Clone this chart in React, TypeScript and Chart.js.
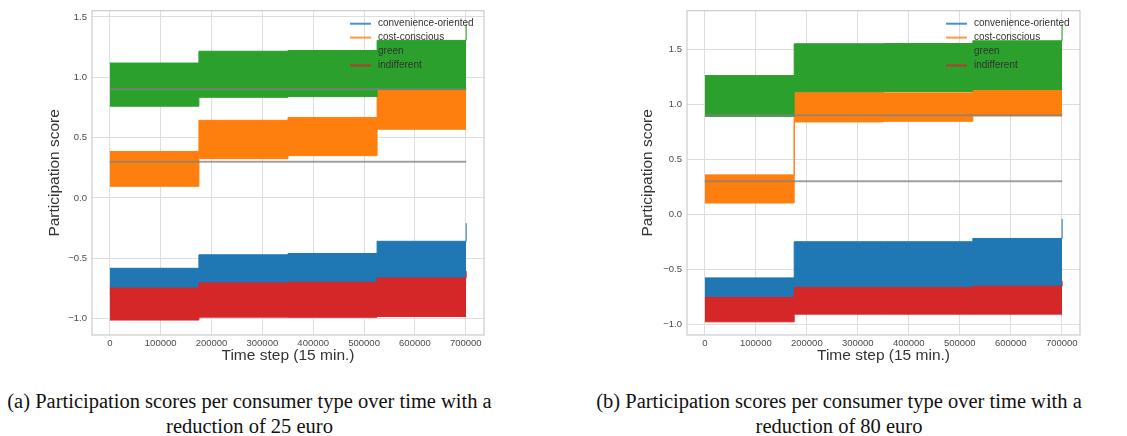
import React, { useEffect, useRef } from 'react';
import { Chart, registerables } from 'chart.js';

Chart.register(...registerables);

// ---------- data ----------
const seriesNames = ['convenience-oriented', 'cost-conscious', 'green', 'indifferent'];
const seriesColors = ['#1f77b4', '#ff7f0e', '#2ca02c', '#d62728'];
const segmentStarts = [0, 175200, 350400, 525600];
const lastStep = 700800;
const xTicks = [0, 100000, 200000, 300000, 400000, 500000, 600000, 700000];
const yTicks = [-1.0, -0.5, 0.0, 0.5, 1.0, 1.5];
const referenceLevels = [0.9, 0.3];

// (a) reduction of 25 euro: band upper / lower value per 5-year segment, and final value
const aConvenienceUpper = [-0.584, -0.472, -0.461, -0.36];
const aConvenienceLower = [-0.8, -0.76, -0.75, -0.72];
const aCostUpper = [0.385, 0.643, 0.667, 0.905];
const aCostLower = [0.096, 0.325, 0.35, 0.569];
const aGreenUpper = [1.118, 1.216, 1.222, 1.306];
const aGreenLower = [0.76, 0.834, 0.84, 0.9];
const aIndifferentUpper = [-0.748, -0.705, -0.7, -0.664];
const aIndifferentLower = [-1.013, -0.989, -0.99, -0.984];
const aFinalValues = [-0.21, 0.905, 1.44, -0.607];
const aYRange = [-1.137, 1.552];

// (b) reduction of 80 euro
const bConvenienceUpper = [-0.58, -0.251, -0.251, -0.221];
const bConvenienceLower = [-0.8, -0.7, -0.7, -0.7];
const bCostUpper = [0.358, 1.111, 1.105, 1.136];
const bCostLower = [0.102, 0.84, 0.846, 0.895];
const bGreenUpper = [1.262, 1.552, 1.554, 1.579];
const bGreenLower = [0.891, 1.115, 1.118, 1.136];
const bIndifferentUpper = [-0.758, -0.667, -0.667, -0.655];
const bIndifferentLower = [-0.98, -0.91, -0.91, -0.91];
const bFinalValues = [-0.043, 1.136, 1.729, -0.607];
const bYRange = [-1.1, 1.853];

// ---------- helpers ----------
const SANS = '"Liberation Sans", Arial, sans-serif';

function buildDatasets(uppers: number[][], lowers: number[][], finals: number[]) {
  const ds: any[] = [];
  seriesNames.forEach((name, i) => {
    const color = seriesColors[i];
    const low = segmentStarts.map((x, k) => ({ x, y: lowers[i][k] }));
    low.push({ x: lastStep, y: lowers[i][lowers[i].length - 1] });
    const up = segmentStarts.map((x, k) => ({ x, y: uppers[i][k] }));
    up.push({ x: lastStep, y: uppers[i][uppers[i].length - 1] });
    up.push({ x: lastStep, y: finals[i] });
    ds.push({
      label: name + ' (lower)', data: low, borderColor: color, backgroundColor: color,
      borderWidth: 1, pointRadius: 0, stepped: true, fill: false, order: 10 - i, inLegend: false,
    });
    ds.push({
      label: name, data: up, borderColor: color, backgroundColor: color,
      borderWidth: 1, pointRadius: 0, stepped: true, fill: '-1', order: 10 - i, inLegend: true,
    });
  });
  referenceLevels.forEach((level) => {
    ds.push({
      label: 'reference ' + level, data: [{ x: 0, y: level }, { x: lastStep, y: level }],
      borderColor: 'rgba(128,128,128,0.75)', borderWidth: 2, pointRadius: 0, fill: false,
      order: 1, inLegend: false,
    });
  });
  return ds;
}

const framePlugin = {
  id: 'frameAndLegend',
  afterDatasetsDraw(chart: any) {
    const { ctx, chartArea } = chart;
    ctx.save();
    ctx.strokeStyle = '#cccccc';
    ctx.lineWidth = 1.2;
    ctx.strokeRect(chartArea.left, chartArea.top, chartArea.right - chartArea.left, chartArea.bottom - chartArea.top);
    // legend (matplotlib style, upper right, no frame)
    const items = chart.data.datasets.filter((d: any) => d.inLegend);
    ctx.font = '10px ' + SANS;
    ctx.textBaseline = 'middle';
    ctx.textAlign = 'left';
    items.forEach((d: any, i: number) => {
      const y = chartArea.top + 13 + i * 13.9;
      ctx.strokeStyle = d.borderColor;
      ctx.globalAlpha = 0.8;
      ctx.lineWidth = 2;
      ctx.beginPath();
      ctx.moveTo(chartArea.right - 134, y);
      ctx.lineTo(chartArea.right - 113, y);
      ctx.stroke();
      ctx.globalAlpha = 1;
      ctx.fillStyle = '#333333';
      ctx.fillText(d.label, chartArea.right - 106, y);
    });
    ctx.restore();
  },
};

function makeConfig(datasets: any[], yRange: number[], yTitlePad: number, padRight: number) {
  return {
    type: 'line',
    data: { datasets },
    options: {
      responsive: false,
      animation: false,
      events: [],
      layout: { padding: { top: 8, right: padRight, left: 0, bottom: 0 } },
      plugins: { legend: { display: false }, tooltip: { enabled: false } },
      scales: {
        x: {
          type: 'linear',
          min: -0.05 * lastStep,
          max: 1.05 * lastStep,
          afterBuildTicks: (s: any) => { s.ticks = xTicks.map((v) => ({ value: v })); },
          afterFit: (s: any) => { s.height = 37; },
          ticks: {
            callback: (v: any) => String(v),
            font: { family: SANS, size: 9.5 },
            color: '#4a4a4a',
            padding: 3,
            autoSkip: false,
            maxRotation: 0,
          },
          grid: { color: '#dedede', lineWidth: 1, drawTicks: false },
          border: { display: false },
          title: {
            display: true, text: 'Time step (15 min.)',
            font: { family: SANS, size: 15.5 }, color: '#333333',
            padding: { top: 0, bottom: 6.5 },
          },
        },
        y: {
          type: 'linear',
          min: yRange[0],
          max: yRange[1],
          afterBuildTicks: (s: any) => { s.ticks = yTicks.map((v) => ({ value: v })); },
          afterFit: (s: any) => { s.width = 92; },
          ticks: {
            callback: (v: any) => (v < 0 ? '\u2212' : '') + Math.abs(v).toFixed(1),
            font: { family: SANS, size: 9.5 },
            color: '#4a4a4a',
            padding: 5,
            autoSkip: false,
          },
          grid: { color: '#dedede', lineWidth: 1, drawTicks: false },
          border: { display: false },
          title: {
            display: true, text: 'Participation score',
            font: { family: SANS, size: 15.5 }, color: '#333333',
            padding: { top: yTitlePad, bottom: 0 },
          },
        },
      },
    },
    plugins: [framePlugin],
  };
}

function Panel(props: { left: number; datasets: any[]; yRange: number[]; yTitlePad: number; padRight: number }) {
  const ref = useRef<HTMLCanvasElement>(null);
  useEffect(() => {
    if (!ref.current) return;
    const chart = new Chart(ref.current, makeConfig(props.datasets, props.yRange, props.yTitlePad, props.padRight) as any);
    return () => chart.destroy();
  }, []);
  return (
    <canvas
      ref={ref}
      width={500}
      height={372}
      style={{ position: 'absolute', left: props.left, top: 0, width: 500, height: 372 }}
    />
  );
}

const captionStyle: React.CSSProperties = {
  position: 'absolute',
  top: 389,
  width: 560,
  textAlign: 'center',
  fontFamily: '"Liberation Serif", "Times New Roman", serif',
  fontSize: 20.5,
  lineHeight: '25px',
  color: '#111',
  whiteSpace: 'nowrap',
};

export default function App() {
  const aDatasets = buildDatasets(
    [aConvenienceUpper, aCostUpper, aGreenUpper, aIndifferentUpper],
    [aConvenienceLower, aCostLower, aGreenLower, aIndifferentLower],
    aFinalValues,
  );
  const bDatasets = buildDatasets(
    [bConvenienceUpper, bCostUpper, bGreenUpper, bIndifferentUpper],
    [bConvenienceLower, bCostLower, bGreenLower, bIndifferentLower],
    bFinalValues,
  );
  return (
    <div style={{ position: 'absolute', left: 0, top: 0, width: 1127, height: 436, background: '#fff', overflow: 'hidden' }}>
      <Panel left={0} datasets={aDatasets} yRange={aYRange} yTitlePad={45.7} padRight={16} />
      <Panel left={595} datasets={bDatasets} yRange={bYRange} yTitlePad={43.7} padRight={15} />
      <div style={{ ...captionStyle, left: 249.5 - 280 }}>
        (a) Participation scores per consumer type over time with a<br />reduction of 25 euro
      </div>
      <div style={{ ...captionStyle, left: 839 - 280 }}>
        (b) Participation scores per consumer type over time with a<br />reduction of 80 euro
      </div>
    </div>
  );
}
